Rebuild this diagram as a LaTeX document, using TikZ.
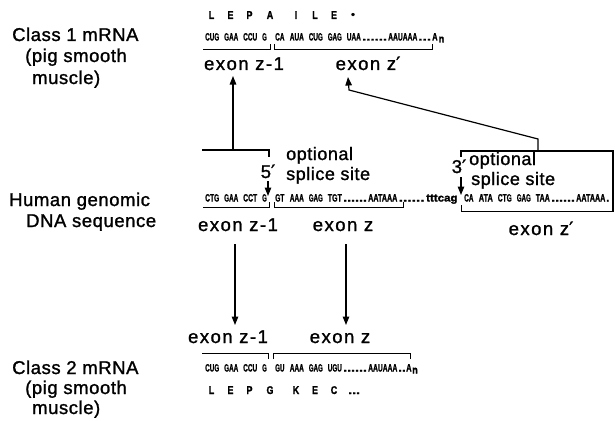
\documentclass[tikz,border=0pt]{standalone}
\usepackage{fontspec}
\usepackage{graphicx}
\setmainfont{Liberation Sans}
\newfontfamily\lbf[LetterSpace=3,FakeBold=1.3]{Liberation Sans}
\newfontfamily\exf[LetterSpace=8,FakeBold=1.3]{Liberation Sans}
\newfontfamily\sqf[FakeBold=1.6]{Liberation Sans}
\newfontfamily\dvs[FakeBold=1.3]{DejaVu Sans}
\usetikzlibrary{arrows.meta}
\newcommand\lbfont{\lbf\fontsize{18.5pt}{20pt}\selectfont}
\newcommand\opfont{\lbf\fontsize{18pt}{20pt}\selectfont}
\newcommand\exfont{\exf\fontsize{18.5pt}{20pt}\selectfont}
\newcommand\sq[2]{\resizebox{\dimexpr #1*108/100\relax}{7.4pt}{\sqf\bfseries\vphantom{A}#2}}
\newcommand\aachar[1]{\resizebox{!}{7.8pt}{\scalebox{0.8}[1]{\sqf\bfseries\vphantom{A}#1}}}
\newcommand\pr{{\dvs\char"2032}}
\begin{document}
\begin{tikzpicture}[x=1pt,y=-1pt,
  lab/.style={font=\exfont, inner sep=0pt, anchor=base},
  side/.style={font=\lbfont, inner sep=0pt, anchor=base west},
  opt/.style={font=\opfont, inner sep=0pt, anchor=base west},
  seqt/.style={inner sep=0pt, anchor=base west},
  aa/.style={inner sep=0pt, anchor=base},
  arr/.style={line width=1.2pt, -{Triangle[length=8.5pt,width=6.5pt]}},
  brk/.style={line width=0.75pt},
  conn/.style={line width=1.1pt}]
\useasboundingbox (0,0) rectangle (615,420);

% ---------------- left labels
\node[side] (c1a) at (12,41) {Class 1 mRNA};
\node[side] (c1b) at (25,62) {(pig smooth};
\node[side] (c1c) at (32,84) {muscle)};
\node[side] (h1) at (9,206) {Human genomic};
\node[side] (h2) at (26,227) {DNA sequence};
\node[side] (c2a) at (12,374) {Class 2 mRNA};
\node[side] (c2b) at (25,394) {(pig smooth};
\node[side] (c2c) at (32,414) {muscle)};

% ---------------- top row: class 1 mRNA
\foreach \x/\t [count=\i] in {211.5/L,230.5/E,249.5/P,270/A,296/I,315/L,334/E}
  \node[aa] (aa1\i) at (\x,19) {\aachar{\t}};
\node[aa] (aa18) at (353,18) {\resizebox{!}{5pt}{\sqf\bfseries\textbullet}};
\node[seqt] (t01) at (205,40.5)   {\sq{13pt}{CUG}};
\node[seqt] (t02) at (224,40.5)   {\sq{13pt}{GAA}};
\node[seqt] (t03) at (243,40.5)   {\sq{13pt}{CCU}};
\node[seqt] (t04) at (262,40.5)   {\sq{4.3pt}{G}};
\node[seqt] (t05) at (275,40.5)   {\sq{8.6pt}{CA}};
\node[seqt] (t06) at (289.6,40.5) {\sq{13pt}{AUA}};
\node[seqt] (t07) at (308.6,40.5) {\sq{13pt}{CUG}};
\node[seqt] (t08) at (327.6,40.5) {\sq{13pt}{GAG}};
\node[seqt] (t09) at (346.6,40.5) {\sq{13pt}{UAA}};
\node[seqt] (t10) at (362,40.5)   {\sq{23pt}{......}};
\node[seqt] (t11) at (388,40.5)   {\sq{27pt}{AAUAAA}};
\node[seqt] (t12) at (418,40.5)   {\sq{12pt}{...}};
\node[seqt] (t13) at (432,40.5)   {\sq{5pt}{A}};
\node[seqt] (t14) at (438.5,42.5) {\sq{5.2pt}{n}};
\draw[brk] (203,49) -- (270,49) -- (270,44);
\draw[brk] (274,44) -- (274,49) -- (432,49) -- (432,44);
\node[lab] (e1a) at (244,70) {exon z-1};
\node[lab] (e1b) at (368,70) {exon z\pr};

% ---------------- connectors to class 1
\coordinate (u1s) at (233,150);
\coordinate (u1t) at (233,76);
\draw[arr] (u1s) -- (u1t);
\coordinate (b5l) at (202,150);
\coordinate (b5r) at (269,150);
\coordinate (b5d) at (269,157);
\draw[conn] (b5l) -- (b5r) -- (b5d);
\node[lab] (p5) at (268,178) {5\pr};
\node[opt] (o5a) at (286,160) {optional};
\node[opt] (o5b) at (286,180) {splice site};
\coordinate (a5s) at (268,181);
\coordinate (a5t) at (268,196);
\draw[arr] (a5s) -- (a5t);

\coordinate (u2s) at (538,151);
\coordinate (u2k) at (538,139);
\coordinate (u2m) at (349,90);
\coordinate (u2t) at (348,77);
\draw[arr] (u2s) -- (u2k) -- (u2m) -- (u2t);
\coordinate (b3a) at (461,157);
\coordinate (b3b) at (461,151);
\coordinate (b3c) at (613,151);
\coordinate (b3d) at (613,211.5);
\draw[conn] (b3a) -- (b3b) -- (b3c) -- (b3d);
\node[lab] (p3) at (459,173) {3\pr};
\node[opt] (o3a) at (469,165) {optional};
\node[opt] (o3b) at (471,185) {splice site};
\coordinate (a3s) at (461,177);
\coordinate (a3t) at (461,195);
\draw[arr] (a3s) -- (a3t);

% ---------------- middle: genomic DNA
\node[seqt] (m01) at (205,201.5)   {\sq{13pt}{CTG}};
\node[seqt] (m02) at (224,201.5)   {\sq{13pt}{GAA}};
\node[seqt] (m03) at (243,201.5)   {\sq{13pt}{CCT}};
\node[seqt] (m04) at (262,201.5)   {\sq{4.3pt}{G}};
\node[seqt] (m05) at (275,201.5)   {\sq{8.6pt}{GT}};
\node[seqt] (m06) at (289.6,201.5) {\sq{13pt}{AAA}};
\node[seqt] (m07) at (308.6,201.5) {\sq{13pt}{GAG}};
\node[seqt] (m08) at (327.6,201.5) {\sq{13pt}{TGT}};
\node[seqt] (m09) at (343,201.5)   {\sq{22pt}{......}};
\node[seqt] (m10) at (368,201.5)   {\sq{27pt}{AATAAA}};
\node[seqt] (m11) at (398.5,201.5) {\sq{24pt}{......}};
\node[seqt] (m12) at (426,201.5)   {\sq{29pt}{tttcag}};
\node[seqt] (m13) at (464,201.5)   {\sq{8.6pt}{CA}};
\node[seqt] (m14) at (478.6,201.5) {\sq{13pt}{ATA}};
\node[seqt] (m15) at (497.6,201.5) {\sq{13pt}{CTG}};
\node[seqt] (m16) at (516.6,201.5) {\sq{13pt}{GAG}};
\node[seqt] (m17) at (535.6,201.5) {\sq{13pt}{TAA}};
\node[seqt] (m18) at (551,201.5)   {\sq{22pt}{......}};
\node[seqt] (m19) at (576,201.5)   {\sq{27pt}{AATAAA}};
\node[seqt] (m20) at (606,201.5)   {\sq{3pt}{.}};
\draw[brk] (203,207) -- (269,207) -- (269,202);
\draw[brk] (274,202) -- (274,207) -- (403,207) -- (403,202);
\draw[brk] (461,205) -- (461,211) -- (613,211);
\node[lab] (e2a) at (238,231) {exon z-1};
\node[lab] (e2b) at (343,231) {exon z};
\node[lab] (e2c) at (541,235) {exon z\pr};

% ---------------- connectors to class 2
\coordinate (d1s) at (235,244);
\coordinate (d1t) at (235,325);
\coordinate (d2s) at (346,244);
\coordinate (d2t) at (346,325);
\draw[arr] (d1s) -- (d1t);
\draw[arr] (d2s) -- (d2t);

% ---------------- bottom: class 2 mRNA
\node[lab] (e3a) at (228,343) {exon z-1};
\node[lab] (e3b) at (340,343) {exon z};
\draw[brk] (202,353) -- (268,353) -- (268,359);
\draw[brk] (273,359) -- (273,353) -- (410,353) -- (410,359);
\node[seqt] (b01) at (205,371.5)   {\sq{13pt}{CUG}};
\node[seqt] (b02) at (224,371.5)   {\sq{13pt}{GAA}};
\node[seqt] (b03) at (243,371.5)   {\sq{13pt}{CCU}};
\node[seqt] (b04) at (262,371.5)   {\sq{4.3pt}{G}};
\node[seqt] (b05) at (275,371.5)   {\sq{8.6pt}{GU}};
\node[seqt] (b06) at (289.6,371.5) {\sq{13pt}{AAA}};
\node[seqt] (b07) at (308.6,371.5) {\sq{13pt}{GAG}};
\node[seqt] (b08) at (327.6,371.5) {\sq{13pt}{UGU}};
\node[seqt] (b09) at (343,371.5)   {\sq{22pt}{......}};
\node[seqt] (b10) at (368,371.5)   {\sq{27pt}{AAUAAA}};
\node[seqt] (b11) at (398,371.5)   {\sq{7pt}{..}};
\node[seqt] (b12) at (406,371.5)   {\sq{5pt}{A}};
\node[seqt] (b13) at (412,373.5)   {\sq{5.2pt}{n}};
\foreach \x/\t [count=\i] in {211.5/L,230.5/E,249.5/P,270/G,296/K,315/E,334/C}
  \node[aa] (aa3\i) at (\x,394) {\aachar{\t}};
\node[seqt] (aa38) at (348,394) {\sq{11pt}{...}};
\end{tikzpicture}
\end{document}
